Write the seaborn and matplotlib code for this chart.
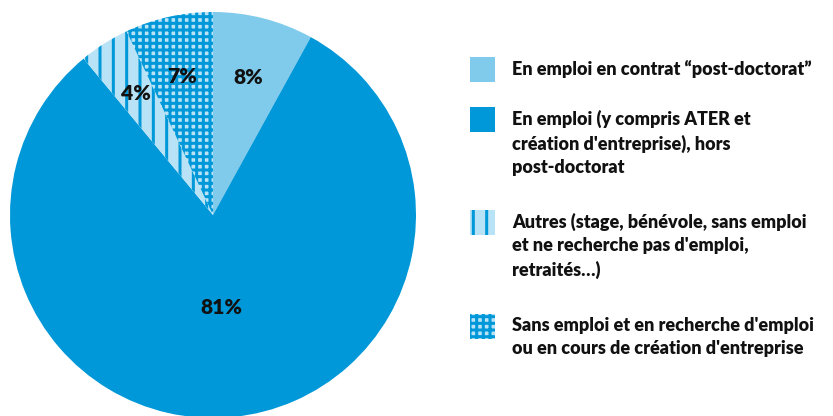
import matplotlib
matplotlib.use("Agg")
import matplotlib.pyplot as plt
from matplotlib.patches import Rectangle
import numpy as np
import seaborn as sns

# ── Data ──────────────────────────────────────────────────────────────────────
labels = [
    "En emploi en contrat \u201cpost-doctorat\u201d",
    "En emploi (y compris ATER et\ncréation d'entreprise), hors\npost-doctorat",
    "Autres (stage, bénévole, sans emploi\net ne recherche pas d'emploi,\nretraités\u2026)",
    "Sans emploi et en recherche d'emploi\nou en cours de création d'entreprise",
]
shares = [8, 81, 4, 7]
pct_labels = ["8%", "81%", "4%", "7%"]

LIGHT = "#80CBEB"
BLUE = "#0098D8"
PALE = "#B8E2F5"
faces = [LIGHT, BLUE, PALE, PALE]
hatches = [None, None, "|", "++"]
label_dist = [0.70, 0.46, 0.71, 0.70]

sns.set_theme(style="white")
plt.rcParams["font.family"] = ["Lato", "DejaVu Sans"]
plt.rcParams["hatch.linewidth"] = 2.7

DPI = 80
px = 72 / DPI  # points per pixel
fig = plt.figure(figsize=(833 / DPI, 416 / DPI), dpi=DPI)
ax = fig.add_axes([10 / 833, -2 / 416, 406 / 833, 406 / 416])

wedges, _ = ax.pie(shares, startangle=90, counterclock=False, radius=1,
                   colors=faces, wedgeprops=dict(linewidth=0))
for w, h in zip(wedges, hatches):
    if h:
        w.set_hatch(h)
        w.set_edgecolor(BLUE)
        w.set_linewidth(0)

# percentage labels
for w, txt, d in zip(wedges, pct_labels, label_dist):
    ang = np.deg2rad((w.theta1 + w.theta2) / 2)
    ax.text(d * np.cos(ang), d * np.sin(ang), txt, ha="center", va="center",
            fontsize=21 * px, fontweight=800, color="#111111")
ax.set_xlim(-1, 1)
ax.set_ylim(-1, 1)
ax.set_aspect("equal")
ax.axis("off")

# ── Legend (manual) ───────────────────────────────────────────────────────────
tops = [57, 107, 210, 314]
for top, lab, fc, h in zip(tops, labels, faces, hatches):
    rect = Rectangle((470 / 833, 1 - (top + 25) / 416), 25 / 833, 25 / 416,
                     transform=fig.transFigure, facecolor=fc,
                     edgecolor=BLUE if h else fc, linewidth=0, hatch=h)
    fig.add_artist(rect)
    fig.text(512 / 833, 1 - (top + 3) / 416, lab, ha="left", va="top",
             fontsize=18 * px, fontweight=800, color="#111111",
             linespacing=1.42)

plt.savefig("out.png", dpi=DPI)
